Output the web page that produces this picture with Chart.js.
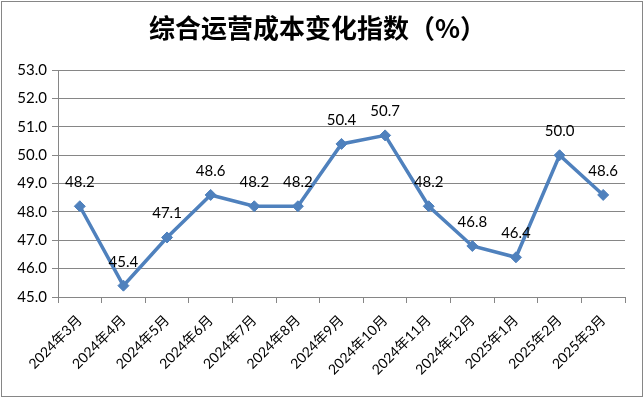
<!DOCTYPE html>
<html>
<head>
<meta charset="utf-8">
<script src="https://cdn.jsdelivr.net/npm/chart.js@4"></script>
<style>
html,body{margin:0;padding:0;background:#fff;}
#wrap{width:644px;height:398px;position:relative;}
</style>
</head>
<body>
<div id="wrap"><canvas id="c" width="644" height="398"></canvas></div>
<script>
const categories = ["2024年3月","2024年4月","2024年5月","2024年6月","2024年7月","2024年8月","2024年9月","2024年10月","2024年11月","2024年12月","2025年1月","2025年2月","2025年3月"];
const indexValues = [48.2,45.4,47.1,48.6,48.2,48.2,50.4,50.7,48.2,46.8,46.4,50.0,48.6];
const yTickMin = 45;
const yTickMax = 53;
const titleText = "综合运营成本变化指数（%）";

const bgBorder = {
  id:'bgBorder',
  beforeDraw(chart){
    const ctx = chart.ctx;
    ctx.save();
    ctx.fillStyle = '#fff';
    ctx.fillRect(0,0,chart.width,chart.height);
    ctx.strokeStyle = '#868686';
    ctx.lineWidth = 1;
    ctx.strokeRect(1.5,1.5,641,395);
    ctx.restore();
  }
};
const valueLabels = {
  id:'valueLabels',
  afterDatasetsDraw(chart){
    const ctx = chart.ctx;
    const meta = chart.getDatasetMeta(0);
    ctx.save();
    ctx.font = '15px Lato, "Noto Sans CJK SC", sans-serif';
    ctx.fillStyle = '#000';
    ctx.textAlign = 'center';
    ctx.textBaseline = 'middle';
    meta.data.forEach((p,i)=>{
      ctx.fillText(chart.data.datasets[0].data[i].toFixed(1), p.x, p.y - 24);
    });
    ctx.restore();
  }
};

new Chart(document.getElementById('c'), {
  type:'line',
  data:{
    labels:categories,
    datasets:[{
      data:indexValues,
      borderColor:'#4f81bd',
      backgroundColor:'#4f81bd',
      borderWidth:3.5,
      pointStyle:'rectRot',
      pointRadius:5.5,
      pointBorderWidth:1,
      pointBackgroundColor:'#4f81bd',
      pointBorderColor:'#4f81bd',
      tension:0
    }]
  },
  options:{
    responsive:false,
    animation:false,
    devicePixelRatio:1,
    layout:{padding:{top:8,left:10,right:19,bottom:0}},
    plugins:{
      legend:{display:false},
      tooltip:{enabled:false},
      title:{
        display:true,
        text:titleText,
        color:'#000',
        font:{family:'"Noto Sans CJK SC", sans-serif', size:26, weight:'bold', lineHeight:1.2},
        padding:{top:5,bottom:26}
      }
    },
    scales:{
      x:{
        offset:true,
        grid:{display:true, drawOnChartArea:false, offset:true, drawTicks:true, tickLength:6, color:'#868686'},
        border:{display:true, color:'#868686', width:1},
        ticks:{
          autoSkip:false, maxRotation:45, minRotation:45,
          color:'#000',
          font:{family:'Lato, "Noto Sans CJK SC", sans-serif', size:14},
          padding:9
        },
        afterFit(scale){ scale.height = 101; }
      },
      y:{
        min:yTickMin, max:yTickMax,
        grid:{color:'#868686', drawTicks:true, tickLength:6},
        border:{display:true, color:'#868686', width:1},
        ticks:{
          stepSize:1,
          color:'#000',
          font:{family:'Lato, "Noto Sans CJK SC", sans-serif', size:15},
          padding:5,
          callback:(v)=>Number(v).toFixed(1)
        },
        afterFit(scale){ scale.width = 48; }
      }
    }
  },
  plugins:[bgBorder, valueLabels]
});
</script>
</body>
</html>
